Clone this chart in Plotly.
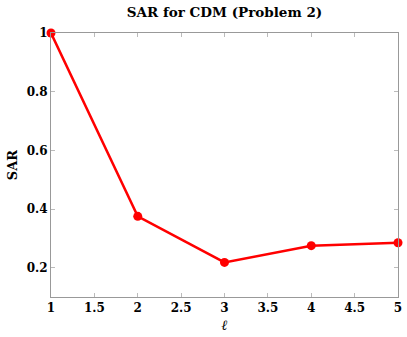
import plotly.graph_objects as go

ell = [1, 2, 3, 4, 5]
sar = [1.0, 0.375, 0.218, 0.275, 0.285]

x_ticks = [1, 1.5, 2, 2.5, 3, 3.5, 4, 4.5, 5]
x_labels = ["1", "1.5", "2", "2.5", "3", "3.5", "4", "4.5", "5"]
y_ticks = [0.2, 0.4, 0.6, 0.8, 1]
y_labels = ["0.2", "0.4", "0.6", "0.8", "1"]

fig = go.Figure()
fig.add_trace(go.Scatter(
    x=ell, y=sar, mode='lines+markers',
    line=dict(color='#ff0000', width=2.5),
    marker=dict(color='#ff0000', size=9),
    cliponaxis=False,
))

axis_style = dict(
    showgrid=False, zeroline=False, automargin=False,
    showline=True, linecolor='#999999', linewidth=1,
    mirror='ticks', ticks='inside', ticklen=4, tickcolor='#bbbbbb',
    ticklabeloverflow='allow',
    tickfont=dict(family='DejaVu Serif', size=12, color='black'),
)

fig.update_layout(
    width=407, height=337,
    margin=dict(l=51, r=9, t=33, b=40),
    plot_bgcolor='white', paper_bgcolor='white',
    showlegend=False,
    title=dict(text='<b>SAR for CDM (Problem 2)</b>', xref='paper', x=0.5, xanchor='center',
               y=0.963, yanchor='middle',
               font=dict(family='DejaVu Serif', size=13.5, color='black')),
    xaxis=dict(range=[1, 5], tickvals=x_ticks,
               ticktext=['<b>%s</b>' % t for t in x_labels],
               title=dict(text='<b><i>ℓ</i></b>', standoff=5,
                          font=dict(family='DejaVu Serif', size=14, color='black')),
               **axis_style),
    yaxis=dict(range=[0.1, 1], tickvals=y_ticks,
               ticktext=['<b>%s</b>' % t for t in y_labels],
               title=dict(text='<b>SAR</b>', standoff=6,
                          font=dict(family='DejaVu Serif', size=13, color='black')),
               **axis_style),
)

# page body has a default margin; drop it so the figure sits at the window corner
fig.write_html("out.html", config={'displayModeBar': False},
               post_script="document.body.style.margin='0';")
